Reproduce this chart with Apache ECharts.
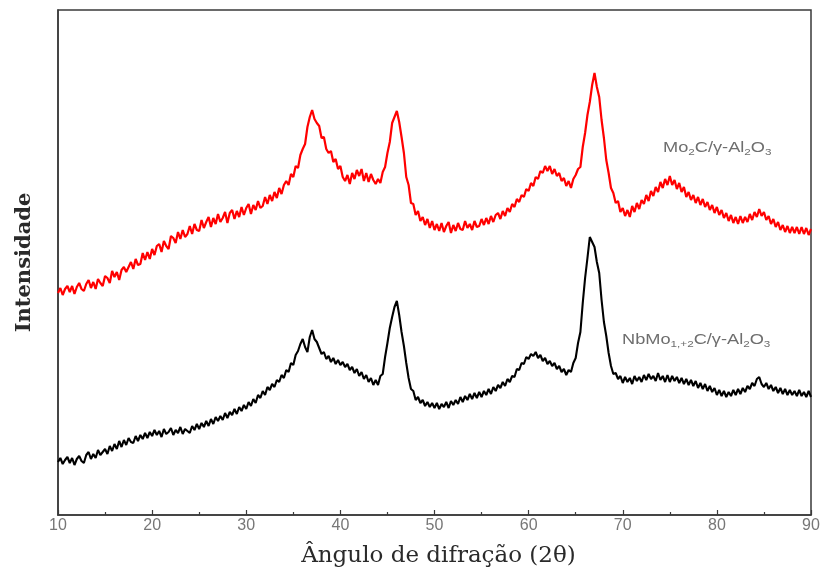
<!DOCTYPE html>
<html>
<head>
<meta charset="utf-8">
<script src="https://cdn.jsdelivr.net/npm/echarts@6/dist/echarts.min.js"></script>
<style>
  html, body { margin: 0; padding: 0; background: #fff; }
  #chart { width: 826px; height: 576px; }
</style>
</head>
<body>
<div id="chart"></div>
<script>
// XRD scans, 2θ from 10° to 90° in 0.25° steps (intensity, arbitrary units)
const scanStart = 10;
const scanStep = 0.25;

// one row = 5° of scan
const mo2cIntensity = [
  222, 227, 220, 226, 229, 223, 229, 221, 228, 232, 226, 224, 231, 235, 227, 233, 226, 236, 232, 229,
  239, 237, 232, 244, 238, 243, 235, 245, 248, 243, 248, 253, 246, 256, 250, 251, 262, 255, 263, 256,
  266, 260, 269, 271, 263, 274, 269, 266, 279, 277, 272, 283, 276, 285, 278, 281, 289, 281, 291, 285,
  284, 295, 287, 293, 298, 288, 297, 291, 301, 293, 297, 303, 292, 302, 305, 296, 304, 298, 308, 300,
  307, 311, 301, 310, 305, 314, 307, 309, 318, 311, 320, 314, 323, 317, 327, 321, 330, 334, 330, 341,
  338, 349, 347, 360, 366, 371, 388, 398, 405, 396, 392, 389, 377, 378, 366, 362, 364, 353, 356, 346,
  349, 338, 334, 340, 331, 342, 336, 345, 339, 346, 334, 342, 333, 341, 335, 331, 336, 332, 343, 348,
  362, 373, 392, 398, 404, 393, 378, 362, 338, 330, 312, 311, 300, 304, 294, 298, 290, 296, 287, 294,
  285, 291, 284, 292, 283, 289, 293, 282, 290, 284, 292, 286, 285, 294, 287, 291, 285, 294, 288, 289,
  296, 290, 297, 291, 299, 293, 300, 302, 296, 304, 299, 307, 303, 311, 308, 316, 313, 320, 318, 326,
  324, 332, 329, 338, 336, 344, 342, 349, 344, 349, 341, 346, 339, 342, 334, 337, 329, 334, 327, 336,
  340, 346, 348, 368, 382, 400, 413, 430, 442, 428, 418, 395, 377, 355, 342, 327, 322, 312, 314, 303,
  307, 299, 305, 298, 309, 303, 312, 306, 315, 311, 320, 314, 324, 319, 328, 323, 333, 327, 336, 330,
  339, 330, 335, 326, 332, 323, 328, 318, 323, 315, 320, 312, 318, 310, 316, 308, 313, 305, 310, 302,
  308, 300, 305, 297, 302, 294, 300, 292, 298, 291, 299, 292, 298, 293, 301, 295, 303, 298, 306, 299,
  303, 295, 299, 291, 296, 288, 293, 285, 290, 283, 289, 282, 288, 282, 288, 281, 288, 281, 287, 280,
  286
];

const nbmoIntensity = [
  53, 57, 51, 55, 58, 52, 57, 50, 56, 59, 54, 52, 60, 63, 56, 61, 57, 65, 60, 63,
  66, 61, 69, 64, 71, 66, 74, 68, 75, 70, 77, 73, 72, 79, 74, 80, 76, 82, 77, 83,
  79, 85, 80, 84, 78, 86, 81, 83, 87, 80, 85, 82, 88, 81, 86, 84, 82, 89, 85, 91,
  86, 92, 88, 94, 89, 96, 91, 98, 94, 99, 95, 102, 97, 103, 100, 106, 101, 108, 104, 110,
  106, 113, 109, 116, 112, 120, 117, 124, 120, 128, 125, 131, 128, 135, 133, 140, 137, 145, 143, 152,
  150, 160, 164, 171, 176, 168, 163, 178, 185, 176, 173, 167, 161, 163, 156, 159, 153, 157, 151, 155,
  150, 153, 148, 151, 145, 148, 142, 146, 139, 143, 136, 140, 133, 137, 130, 135, 130, 139, 141, 158,
  172, 187, 198, 208, 214, 200, 183, 169, 152, 137, 126, 124, 115, 118, 112, 115, 109, 113, 108, 112,
  107, 112, 106, 111, 108, 113, 107, 114, 110, 115, 111, 118, 113, 119, 115, 121, 116, 122, 117, 123,
  118, 124, 120, 126, 121, 128, 124, 130, 127, 133, 129, 136, 133, 139, 138, 146, 145, 152, 151, 158,
  156, 161, 159, 163, 157, 160, 154, 157, 151, 154, 149, 152, 146, 149, 143, 146, 140, 145, 143, 152,
  157, 172, 183, 212, 237, 257, 278, 273, 268, 253, 242, 215, 193, 179, 162, 149, 141, 142, 136, 139,
  132, 138, 133, 137, 131, 139, 134, 138, 133, 140, 135, 141, 136, 139, 134, 142, 135, 139, 133, 140,
  133, 139, 134, 138, 132, 137, 131, 136, 130, 135, 129, 134, 127, 132, 126, 131, 124, 129, 123, 127,
  120, 125, 119, 124, 118, 123, 119, 125, 120, 126, 121, 127, 123, 129, 126, 132, 129, 136, 138, 131,
  128, 132, 126, 130, 124, 128, 122, 127, 121, 126, 120, 125, 120, 124, 119, 125, 119, 123, 118, 124,
  118
];

const xTickMin = 10;
const xTickMax = 90;
const xTickStep = 10;

const toPairs = vals => vals.map((v, i) => [scanStart + i * scanStep, v]);

const chart = echarts.init(document.getElementById('chart'), null, { renderer: 'canvas' });

const labelText = '#6e6e6e';
const rich = {
  n: { fontSize: 14, fill: labelText, fontFamily: 'Liberation Sans' },
  s: { fontSize: 9, fill: labelText, padding: [9, 0, 0, 0], fontFamily: 'Liberation Sans' }
};

chart.setOption({
  animation: false,
  backgroundColor: '#ffffff',
  grid: {
    left: 58, right: 15, top: 10, bottom: 61,
    show: true, borderColor: '#3a3a3a', borderWidth: 1.5, backgroundColor: 'transparent'
  },
  xAxis: {
    type: 'value',
    min: xTickMin, max: xTickMax, interval: xTickStep,
    name: 'Ângulo de difração (2θ)',
    nameLocation: 'middle',
    nameGap: 30,
    nameTextStyle: { fontFamily: 'DejaVu Serif', fontSize: 23, color: '#2a2a2a', padding: [0, 0, 0, 8] },
    axisLine: { show: true, lineStyle: { color: '#3a3a3a', width: 1.5 } },
    axisTick: { show: true, inside: true, length: 5, lineStyle: { color: '#3a3a3a', width: 1.2 } },
    minorTick: { show: true, splitNumber: 2, length: 3, lineStyle: { color: '#3a3a3a', width: 1.2 } },
    axisLabel: { fontFamily: 'Liberation Sans', fontSize: 16, color: '#777', margin: 3 },
    splitLine: { show: false }
  },
  yAxis: {
    type: 'value',
    min: 0, max: 505,
    name: 'Intensidade',
    nameLocation: 'middle',
    nameGap: 23,
    nameTextStyle: { fontFamily: 'DejaVu Serif', fontSize: 21, color: '#2a2a2a', fontWeight: 'bold' },
    axisLine: { show: true, lineStyle: { color: '#3a3a3a', width: 1.5 } },
    axisTick: { show: false },
    axisLabel: { show: false },
    splitLine: { show: false }
  },
  series: [
    {
      name: 'Mo2C/γ-Al2O3',
      type: 'line',
      data: toPairs(mo2cIntensity),
      showSymbol: false,
      lineStyle: { color: '#ff0000', width: 2.2 },
      z: 3
    },
    {
      name: 'NbMo/γ-Al2O3',
      type: 'line',
      data: toPairs(nbmoIntensity),
      showSymbol: false,
      lineStyle: { color: '#000000', width: 2.1 },
      z: 4
    }
  ],
  graphic: [
    {
      type: 'text',
      x: 663, y: 139,
      scaleX: 1.3,
      style: { text: '{n|Mo}{s|2}{n|C/γ-Al}{s|2}{n|O}{s|3}', rich }
    },
    {
      type: 'text',
      x: 622, y: 331,
      scaleX: 1.3,
      style: { text: '{n|NbMo}{s|1,+2}{n|C/γ-Al}{s|2}{n|O}{s|3}', rich }
    }
  ]
});
</script>
</body>
</html>
